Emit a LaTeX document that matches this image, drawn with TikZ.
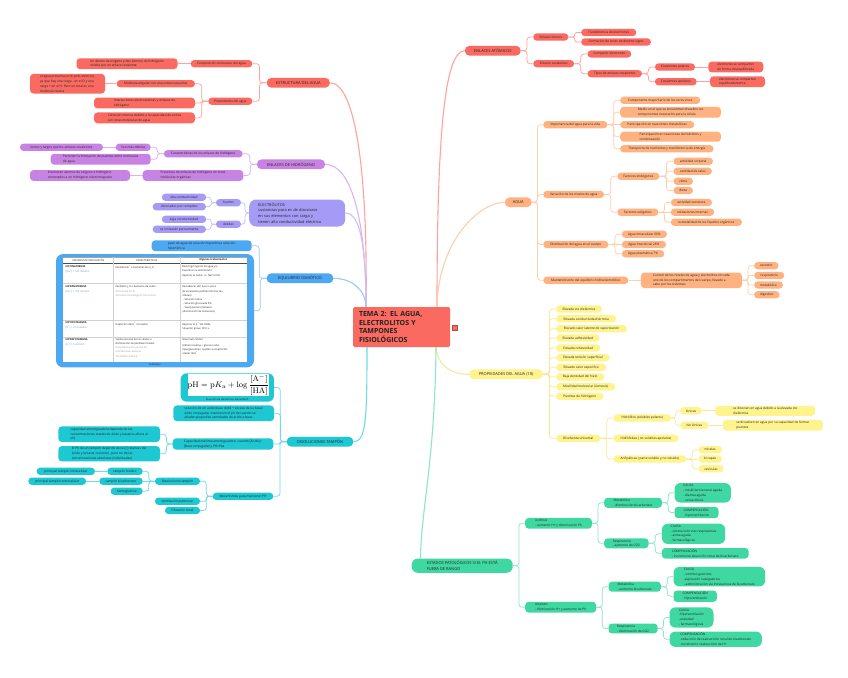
\documentclass[tikz,border=0pt]{standalone}
\usepackage[no-math]{fontspec}
\setmainfont{Open Sans}
\usetikzlibrary{calc,backgrounds}
\definecolor{txt}{HTML}{222222}
\definecolor{cR}{HTML}{FA6A61}
\definecolor{cP}{HTML}{C882E3}
\definecolor{cV}{HTML}{A59BF6}
\definecolor{cB}{HTML}{4DA8F4}
\definecolor{cC}{HTML}{1DC8D2}
\definecolor{cO}{HTML}{FFB27F}
\definecolor{cY}{HTML}{FFF38E}
\definecolor{cG}{HTML}{3FD8A3}
\definecolor{lR}{HTML}{FFA39D}
\definecolor{lP}{HTML}{DDB2EE}
\definecolor{lV}{HTML}{C8C1FA}
\definecolor{lB}{HTML}{96CBF7}
\definecolor{lC}{HTML}{6FDCE3}
\definecolor{lO}{HTML}{FFCEAB}
\definecolor{lY}{HTML}{F5EA98}
\definecolor{lG}{HTML}{8DE6C6}
\definecolor{tblue}{HTML}{6A8DB8}
\definecolor{tgray}{HTML}{9A9A9A}
\newcommand\fs{\fontsize{3.2}{4.8}\selectfont}
\newcommand\fl{\fontsize{4}{5.8}\selectfont}
\newcommand\ft{\fontsize{2.55}{4.1}\selectfont}
\newcommand\fe{\fontsize{3.9}{5.8}\selectfont}
\tikzset{
  nd/.style={rounded corners=3.5pt, inner xsep=3.3pt, inner ysep=1.4pt, minimum height=7.3pt, font=\fs, text=txt, align=center},
  ml/.style={align=left, minimum width=#1},
  lvlone/.style={nd, font=\fl, minimum height=9.8pt, rounded corners=4.5pt, inner xsep=5pt},
  nR/.style={nd, fill=cR}, nP/.style={nd, fill=cP}, nV/.style={nd, fill=cV},
  nB/.style={nd, fill=cB}, nC/.style={nd, fill=cC}, nO/.style={nd, fill=cO},
  nY/.style={nd, fill=cY}, nG/.style={nd, fill=cG, inner xsep=5pt},
  lk/.style={line width=0.75pt},
  lkone/.style={line width=1.1pt},
  cell/.style={anchor=north west, inner sep=0, font=\ft, text=txt, align=left},
  th/.style={inner sep=0, font=\ft, text=txt},
}
\newcommand\edR[4][3]{\draw[lk,draw=#2,rounded corners=#1pt] let \p1=(#3.east), \p2=(#4.west) in (\p1) -- ({(\x1+\x2)/2},\y1) |- (\p2);}
\newcommand\edL[4][3]{\draw[lk,draw=#2,rounded corners=#1pt] let \p1=(#3.west), \p2=(#4.east) in (\p1) -- ({(\x1+\x2)/2},\y1) |- (\p2);}
\newcommand\stR[3]{\draw[lk,draw=#1] (#2.east) -- (#3.west);}
\newcommand\stL[3]{\draw[lk,draw=#1] (#2.west) -- (#3.east);}
\begin{document}
\begin{tikzpicture}[x=1pt,y=-1pt]
\useasboundingbox (0,0) rectangle (848,677);
% ===== root =====
\node[fill=cR, rounded corners=1.5pt, text width=85pt, inner xsep=6pt, inner ysep=3pt, align=left, minimum height=40pt, text=txt, font=\fontsize{7}{8.4}\selectfont\bfseries] (root) at (401.5,327) {TEMA 2: EL AGUA,\\ELECTROLITOS Y\\TAMPONES\\FISIOLÓGICOS};
\node[fill=cR, draw=cR!70!black, line width=0.4pt, minimum size=5pt, inner sep=0] (fold) at (454.2,327.5) {};
\coordinate (rL) at (366,307.5);
\coordinate (rR) at (437,307.5);
\coordinate (rBL) at (367,346.5);
\coordinate (rBR) at (436,346.5);
% ===== ESTRUCTURA =====
\node[lvlone, fill=cR, minimum width=63pt] (estr) at (298.3,82.8) {ESTRUCTURA DEL AGUA};
\node[nR, minimum width=61.6pt] (comp) at (221.5,63.7) {Composición molecular del agua};
\node[nR, ml=101pt] (atomo) at (127,63.7) {Un átomo de oxígeno y dos átomos de hidrógeno\\unidos por un enlace covalente};
\node[nR, minimum width=44pt] (prop) at (230.3,101.2) {Propiedades del agua};
\node[nR, minimum width=78.3pt] (molec) at (155.8,83.7) {Molécula angular con una estructura polar};
\node[nR, ml=75pt] (dipolo) at (67.5,83.7) {el agua presenta un di polo eléctrico,\\ya que hay una carga - en el O y una\\carga + en el H. Pero en total es una\\molécula neutra};
\node[nR, ml=101pt] (inter) at (144.5,103) {Interacciones electrostáticas y enlaces de\\hidrógeno};
\node[nR, ml=101pt] (cohes) at (144.5,117.9) {Cohesión interna debido a la capacidad de unirse\\con otras moléculas de agua};
% ===== ENLACES DE HIDROGENO =====
\node[lvlone, fill=cP, minimum width=68pt] (enh) at (291,164.3) {ENLACES DE HIDRÓGENO};
\node[nP, minimum width=78.7pt] (carac) at (203.3,153.8) {Características de los enlaces de hidrógeno};
\node[nP, minimum width=35pt] (debil) at (133.2,147.3) {Son más débiles};
\node[nP, minimum width=83pt] (largos) at (61.5,147.3) {lemos y largos que los enlaces covalentes};
\node[nP, ml=100pt] (puentes) at (100.7,159.2) {Permiten la formación de puentes entre moléculas\\de agua};
\node[nP, ml=100.6pt] (presen) at (193,175.5) {Presencia de enlaces de hidrógeno en otras\\moléculas orgánicas};
\node[nP, ml=100pt] (involu) at (80,175.5) {Involucran átomos de oxígeno e hidrógeno\\conectados a un hidrógeno electronegativo};
% ===== ELECTROLITOS =====
\node[fill=cV, rounded corners=7pt, text=txt, font=\fe, align=left, text width=78pt, inner xsep=9pt, inner ysep=2pt, minimum height=27pt] (elec) at (297.2,213) {ELECTRÓLITOS\\sustancias para es de disociarse\\en sus elementos con carga y\\tienen alta conductividad eléctrica};
\node[nV, minimum width=25pt] (fuer) at (228.5,202.7) {fuertes};
\node[nV, minimum width=25pt] (deb) at (228.5,224.2) {débiles};
\node[nV, minimum width=44.3pt] (altac) at (184,197.3) {alta conductividad};
\node[nV, minimum width=53.3pt] (disoc) at (179.3,206.7) {disociados por completo};
\node[nV, minimum width=44.3pt] (bajac) at (184,219.3) {baja conductividad};
\node[nV, minimum width=53.3pt] (ioniz) at (179.3,229.3) {se ionizarán parcialmente};
% ===== EQUILIBRIO OSMOTICO =====
\node[lvlone, fill=cB, minimum width=66.6pt] (equi) at (300,278.3) {EQUILIBRIO OSMÓTICO};
\node[nB, ml=100pt] (paso) at (201.7,245.8) {paso de agua de solución hipotónica solución\\hipertónica};
\node[fill=cB, rounded corners=7pt, minimum width=198pt, minimum height=113.3pt, inner sep=0] (tabla) at (155,310.7) {};
\fill[white] (63.3,256.7) rectangle (246.7,361.7);
\draw[black!35, line width=0.3pt] (63.3,256.7) -- (246.7,256.7);
\draw[black!70, line width=0.4pt] (63.3,263.3) -- (246.7,263.3);
\foreach \yy in {283.3,320,336.7} \draw[black!18, line width=0.3pt] (63.3,\yy) -- (246.7,\yy);
\foreach \xx in {113.3,180} \draw[black!18, line width=0.3pt] (\xx,256.7) -- (\xx,361.7);
\node[th] (h1) at (88.3,260) {VALORES EN CIRCULACIÓN};
\node[th] (h2) at (146.7,260) {CARACTERÍSTICAS};
\node[th, font=\ft\bfseries] (h3) at (213.3,260) {Algunos tratamientos};
\node[cell] (a1) at (65.5,265.2) {\textbf{HIPONATREMIA}\\[0.8pt]{\color{tblue}{[}Na\textsuperscript{+}] < 135 mmol/L}};
\node[cell] (a2) at (115.5,265.2) {Pérdida Na\textsuperscript{+} o Aumento de H\textsubscript{2}O};
\node[cell] (a3) at (182.2,265.2) {Restringir ingesta de agua y/o\\Favorecer su eliminación\\[1.2pt]Reponer el sodio: i.v. NaCl 0,9\%};
\node[cell] (b1) at (65.5,285.2) {\textbf{HIPERNATREMIA}\\[0.8pt]{\color{tblue}{[}Na\textsuperscript{+}] > 150 mmol/L}};
\node[cell] (b2) at (115.5,285.8) {Pérdida H\textsubscript{2}O o Aumento de sodio.\\{\color{tgray}Disminuye el LIC}\\{\color{tgray}Síntomas neurológicos frecuentes}};
\node[cell] (b3) at (182.2,285.8) {Restablecer LEC poco a poco\\(bruscamente podrían hinchar las\\células):\\\ - Solución salina\\\ - Solución glucosada 5\%\\\ - Vasopresina intranasal\\(disminución de la diuresis)};
\node[cell] (c1) at (65.5,321.8) {\textbf{HIPOPOTASEMIA}\\[0.8pt]{\color{tblue}{[}K\textsuperscript{+}] < 3,5 mmol/L}};
\node[cell] (c2) at (115.5,321.8) {Depleción del K\textsuperscript{+} circulante};
\node[cell] (c3) at (182.2,321.8) {Reponer el K\textsuperscript{+} VIA ORAL\\[0.8pt]Situación grave: KCl i.v.};
\node[cell] (d1) at (65.5,338.5) {\textbf{HIPERPOTASEMIA}\\[0.8pt]{\color{tblue}{[}K\textsuperscript{+}] > 5 mmol/L}};
\node[cell] (d2) at (115.5,338.5) {Salida excesiva de las células o\\disminución de pérdidas renales.\\{\color{tgray}Despolarización parcial de}\\{\color{tgray}membranas celulares}\\{\color{tgray}Toxicidad cardiaca}};
\node[cell] (d3) at (182.2,338.5) {Gluconato Sódico\\[1.5pt]Admon insulina + glucosa salvo\\hiperglucemias: ayudan a recaptación\\celular de K\textsuperscript{+}};
\node[th] (sub) at (155,364.4) {Subtópico};
% ===== DISOLUCIONES TAMPON =====
\node[lvlone, fill=cC, minimum width=66.6pt] (diso) at (320,441.7) {DISOLUCIONES TAMPÓN};
\node[fill=cC, rounded corners=6pt, minimum width=93.3pt, minimum height=28.4pt, inner sep=0] (ecua) at (227.3,387.5) {};
\node[fill=white, minimum width=80pt, minimum height=22pt, inner sep=0, font=\fontsize{8.5}{10}\selectfont] (form) at (228.3,385) {$\displaystyle \mathrm{pH} = \mathrm{p}K_{\mathrm{a}} + \log\frac{[\mathrm{A}^{-}]}{[\mathrm{HA}]}$};
\node[th] (ecuT) at (227.3,399.2) {Ecuación de Henderson-Hasselbach};
\node[nC, ml=100.7pt] (soluc) at (223.7,413.3) {solución de un ácido/base débil + exceso de su base/\\ácido conjugada: mantienen el ph de cuando se\\añaden pequeñas cantidades de ácido o base};
\node[nC, ml=100.6pt] (capmax) at (223,444) {Capacidad máxima amortiguadora: cuando {[}Ácido]=\\{[}Base conjugada] y PH=Pka};
\node[nC, ml=101.7pt] (capam) at (109.2,434.2) {capacidad amortiguadora depende de las\\concentraciones totales de ácido y base(no afecta al\\ph)};
\node[nC, ml=101.7pt] (elph) at (109.2,453.8) {El Ph de un tampón depende de las {[}] relativas del\\ácido y la base( cociente) , pero no de las\\concentraciones absolutas (individuales)};
\node[nC, minimum width=60.6pt] (mecan) at (243,496.3) {Mecanismos para mantener PH};
\node[nC, minimum width=45pt] (distam) at (177.5,481.2) {Disoluciones tampón};
\node[nC, minimum width=45pt] (venti) at (177.5,501.2) {Ventilación pulmonar};
\node[nC, minimum width=35pt] (filtr) at (182.5,510.5) {Filtración renal};
\node[nC, minimum width=35.4pt] (fosf) at (125,471.3) {tampón fosfato};
\node[nC, minimum width=43.4pt] (bicar) at (121,481.2) {tampón bicarbonato};
\node[nC, minimum width=32pt] (hemo) at (126.7,491.2) {hemoglobina};
\node[nC, minimum width=58.3pt] (intra) at (65.8,471.3) {principal tampón intracelular};
\node[nC, minimum width=57.7pt] (extra) at (57.2,481.2) {principal tampón extracelular};
% ===== ENLACES ATOMICOS =====
\node[lvlone, fill=cR, minimum width=55.7pt] (enat) at (492.8,50.7) {ENLACES ATÓMICOS};
\node[nR, minimum width=35pt] (ionic) at (550.8,37) {Enlaces iónicos};
\node[nR, minimum width=40.7pt] (coval) at (553.7,63.7) {Enlaces covalentes};
\node[nR, minimum width=55pt, anchor=west] (transf) at (581,32.5) {Transferencia de electrones};
\node[nR, minimum width=69.7pt, anchor=west] (forma) at (581,42) {Formación de iones de distinto signo};
\node[nR, minimum width=43.7pt, anchor=west] (compa) at (587.3,54) {Compartir electrones};
\node[nR, minimum width=54.4pt, anchor=west] (tipos) at (587.3,73.7) {Tipos de enlaces covalentes};
\node[nR, minimum width=40pt] (polar) at (675,67) {Covalentes polares};
\node[nR, minimum width=41.7pt] (apolar) at (675.8,81.7) {Covalentes apolares};
\node[nR, ml=55pt] (deseq) at (735.8,67) {electrones se comparten\\de forma desequilibrada};
\node[nR, ml=55pt] (equil) at (737.5,81.7) {electrones se comparten\\equilibradamente};
% ===== AGUA =====
\node[lvlone, fill=cO, minimum width=26.7pt] (agua) at (518.3,202.3) {AGUA};
\node[nO, minimum width=64pt] (impor) at (575.3,124.7) {Importancia del agua para la vida};
\node[nO, minimum width=80pt, anchor=west] (compo) at (620,100.3) {Componente mayoritario de los seres vivos};
\node[nO, ml=100.7pt, anchor=west] (medio) at (620,112.2) {Medio en el que se encuentran disueltos los\\componentes necesarios para la célula};
\node[nO, minimum width=74pt, anchor=west] (partm) at (620,124.7) {Participación en reacciones metabólicas};
\node[nO, ml=100.7pt, anchor=west] (parth) at (620,136.7) {Participación en reacciones de hidrólisis y\\condensación};
\node[nO, minimum width=93.3pt, anchor=west] (trans) at (620,148.8) {Transporte de nutrientes y transferencia de energía};
\node[nO, minimum width=60.7pt] (varia) at (573.7,194.5) {Variación de los niveles de agua};
\node[nO, minimum width=42pt] (endog) at (638.3,176.3) {Factores endógenos};
\node[nO, minimum width=39.4pt, anchor=west] (actc) at (673.3,161.3) {actividad corporal};
\node[nO, minimum width=38.4pt, anchor=west] (sales) at (673.3,171.3) {cantidad de sales};
\node[nO, minimum width=19.4pt, anchor=west] (clima) at (673.3,181.2) {clima};
\node[nO, minimum width=19.4pt, anchor=west] (dieta) at (673.3,190.5) {dieta};
\node[nO, minimum width=41pt] (exog) at (637.8,212.2) {Factores exógenos};
\node[nO, minimum width=41pt, anchor=west] (acts) at (670.7,202.5) {actividad secretora};
\node[nO, minimum width=43.3pt, anchor=west] (oxid) at (670.7,212.2) {oxidaciones internas};
\node[nO, minimum width=71pt, anchor=west] (osmo) at (670.7,222.2) {osmolalidad de los líquidos orgánicos};
\node[nO, minimum width=65pt] (distr) at (575.8,244.5) {Distribución del agua en el cuerpo};
\node[nO, minimum width=45pt, anchor=west] (aintra) at (621.7,234.2) {Agua intracelular 66\%};
\node[nO, minimum width=44pt, anchor=west] (ainter) at (621.7,244.5) {Agua intersticial 26\%};
\node[nO, minimum width=42.3pt, anchor=west] (aplas) at (621.7,253.8) {Agua plasmática 7\%};
\node[nO, minimum width=85pt] (mante) at (585.8,280.3) {Mantenimiento del equilibrio hidroelectrolítico};
\node[nO, ml=101pt, anchor=west] (contr) at (640.7,280.3) {Control de los niveles de agua y electrolitos en cada\\uno de los compartimentos del cuerpo, llevado a\\cabo por los sistemas:};
\node[nO, minimum width=24.3pt, anchor=west] (excr) at (754,265.7) {excretor};
\node[nO, minimum width=30pt, anchor=west] (resp) at (754,275.5) {respiratorio};
\node[nO, minimum width=28.7pt, anchor=west] (meta) at (754,285) {metabólico};
\node[nO, minimum width=25.3pt, anchor=west] (dige) at (754,294.8) {digestivo};
% ===== PROPIEDADES =====
\node[lvlone, fill=cY, minimum width=73.3pt] (props) at (506,374.3) {PROPIEDADES DEL AGUA (10)};
\node[nY, minimum width=45.7pt, anchor=west] (p1) at (556,309) {Elevada cte dieléctrica};
\node[nY, minimum width=60pt, anchor=west] (p2) at (556,318.8) {Elevada conductividad térmica};
\node[nY, minimum width=70.7pt, anchor=west] (p3) at (556,328.7) {Elevado calor latente de vaporización};
\node[nY, minimum width=43.3pt, anchor=west] (p4) at (556,338) {Elevada adhesividad};
\node[nY, minimum width=44pt, anchor=west] (p5) at (556,348) {Elevada cohesividad};
\node[nY, minimum width=53.3pt, anchor=west] (p6) at (556,357.7) {Elevada tensión superficial};
\node[nY, minimum width=50pt, anchor=west] (p7) at (556,367.3) {Elevado calor específico};
\node[nY, minimum width=48pt, anchor=west] (p8) at (556,377) {Baja densidad del hielo};
\node[nY, minimum width=59pt, anchor=west] (p9) at (556,386.8) {Movilidad molecular (ósmosis)};
\node[nY, minimum width=47.3pt, anchor=west] (p10) at (556,396.3) {Puentes de hidrógeno};
\node[nY, minimum width=44pt, anchor=west] (disolv) at (556,438.3) {Disolvente universal};
\node[nY, minimum width=57.4pt, anchor=west] (hfil) at (613.3,418) {Hidrófilos (solubles polares)};
\node[nY, minimum width=65pt, anchor=west] (hfob) at (613.3,438.3) {Hidrófobas ( no solubles apolares)};
\node[nY, minimum width=72.7pt, anchor=west] (anfi) at (613.3,459) {Anfipáticas ( parte soluble y no soluble)};
\node[nY, minimum width=21.7pt, anchor=west] (ionicas) at (680,410.8) {Iónicas};
\node[nY, minimum width=28.3pt, anchor=west] (noion) at (680,425.3) {No iónicas};
\node[nY, ml=100pt, anchor=west] (sediso) at (715,410.8) {se disocian en agua debido a la elevada cte\\dieléctrica};
\node[nY, ml=100pt, anchor=west] (sedisu) at (722.7,425.3) {se disuelven en agua por su capacidad de formar\\puentes};
\node[nY, minimum width=23.3pt, anchor=west] (mice) at (698.3,449.7) {micelas};
\node[nY, minimum width=23.3pt, anchor=west] (bica) at (698.3,459) {bi capas};
\node[nY, minimum width=25pt, anchor=west] (vesi) at (698.3,468.8) {vesículas};
% ===== ESTADOS PATOLOGICOS =====
\node[lvlone, fill=cG, align=left, minimum width=101pt, inner ysep=2.3pt, rounded corners=6pt] (estad) at (462.2,565.7) {ESTADOS PATOLÓGICOS SI EL PH ESTÁ\\FUERA DE RANGO};
\node[nG, ml=66.7pt, anchor=west] (acid) at (525,523.3) {Acidosis\\- aumento H+ y disminución Ph};
\node[nG, ml=71pt, anchor=west] (alca) at (525,607.2) {Alcalosis\\- disminución H+ y aumento de Ph};
\node[nG, ml=57.7pt, anchor=west] (metA) at (604,502.8) {Metabólica\\- disminución bicarbonato};
\node[nG, ml=44.3pt, anchor=west] (resA) at (604,543.3) {Respiratoria\\- aumento de CO2};
\node[nG, ml=56.4pt, anchor=west, rounded corners=6pt] (cauA1) at (674.3,492.8) {CAUSA\\- insuficiencia renal aguda\\- diarrea aguda\\- cetoacidosis};
\node[nG, ml=44pt, anchor=west] (comA1) at (674.3,512.5) {COMPENSACIÓN\\- hiperventilación};
\node[nG, ml=63.3pt, anchor=west, rounded corners=6pt] (cauA2) at (661.7,533.8) {CAUSA\\- obstrucción vías respiratorias\\- asma aguda\\- farmacológicas};
\node[nG, ml=86.7pt, anchor=west] (comA2) at (661.7,553.3) {COMPENSACIÓN\\- incremento absorción renal de bicarbonato};
\node[nG, ml=52.4pt, anchor=west] (metB) at (608.3,586.7) {Metabólica\\- aumento bicarbonato};
\node[nG, ml=49pt, anchor=west] (resB) at (608.3,628.5) {Respiratoria\\- disminución de CO2};
\node[nG, ml=91.7pt, anchor=west, rounded corners=6pt] (cauB1) at (673.3,576.7) {CAUSA\\- vomitos gastricos\\-aspiración nasogastrica\\- administración vía intravenosa de bicarbonato};
\node[nG, ml=43.4pt, anchor=west] (comB1) at (673.3,596.2) {COMPENSACIÓN\\- hipoventilación};
\node[nG, ml=44pt, anchor=west, rounded corners=6pt] (cauB2) at (669.3,617.5) {CAUSA\\-hiperventilación\\-ansiedad\\- farmacológicas};
\node[nG, ml=92.4pt, anchor=west, rounded corners=6pt] (comB2) at (669.3,639.2) {COMPENSACIÓN\\-reducción de reabsorción renal de bicarbonato\\-incremento reabsorción de H+};
% ===== connectors =====
\begin{pgfonlayer}{background}
\fill[white] (0,0) rectangle (848,677);
% level one
\draw[lkone,draw=lR] (rL) .. controls (368,170) and (355,82.8) .. (estr.east);
\draw[lkone,draw=lP] (rL) .. controls (366,215) and (350,164.3) .. (enh.east);
\draw[lkone,draw=lV] (rL) .. controls (366,245) and (360,213) .. (elec.east);
\draw[lkone,draw=lB] (rL) .. controls (366,290) and (352,278.3) .. (equi.east);
\draw[lkone,draw=lC] (rBL) .. controls (367,420) and (366,441.7) .. (diso.east);
\draw[lkone,draw=lR] (rR) .. controls (437,130) and (445,50.7) .. (enat.west);
\draw[lkone,draw=lO] (rR) .. controls (438,240) and (480,202.3) .. (agua.west);
\draw[lkone,draw=lY] (rBR) .. controls (437,365) and (450,374.3) .. (props.west);
\draw[lkone,draw=lG] (rBR) .. controls (435,460) and (421,510) .. ([xshift=9pt]estad.north west);
% estructura
\edL{lR}{estr}{comp} \edL{lR}{estr}{prop} \stL{lR}{comp}{atomo}
\edL{lR}{prop}{molec} \edL[0.9]{lR}{prop}{inter} \edL{lR}{prop}{cohes} \stL{lR}{molec}{dipolo}
% enlaces H
\edL{lP}{enh}{carac} \edL{lP}{enh}{presen} \edL[3]{lP}{carac}{debil} \edL[2.2]{lP}{carac}{puentes}
\stL{lP}{debil}{largos} \stL{lP}{presen}{involu}
% electrolitos
\edL{lV}{elec}{fuer} \edL{lV}{elec}{deb} \edL[2.4]{lV}{fuer}{altac} \edL[1.8]{lV}{fuer}{disoc}
\edL[2.1]{lV}{deb}{bajac} \edL[2.3]{lV}{deb}{ioniz}
% equilibrio
\edL{lB}{equi}{paso} \edL{lB}{equi}{tabla}
% disoluciones
\edL{lC}{diso}{ecua} \edL{lC}{diso}{soluc} \edL[1]{lC}{diso}{capmax} \edL{lC}{diso}{mecan}
\edL{lC}{capmax}{capam} \edL{lC}{capmax}{elph}
\edL{lC}{mecan}{distam} \edL[2]{lC}{mecan}{venti} \edL{lC}{mecan}{filtr}
\edL{lC}{distam}{fosf} \stL{lC}{distam}{bicar} \edL{lC}{distam}{hemo}
\stL{lC}{fosf}{intra} \stL{lC}{bicar}{extra}
% enlaces atomicos
\edR{lR}{enat}{ionic} \edR{lR}{enat}{coval} \edR[2]{lR}{ionic}{transf} \edR[2.2]{lR}{ionic}{forma}
\edR{lR}{coval}{compa} \edR{lR}{coval}{tipos} \edR{lR}{tipos}{polar} \edR{lR}{tipos}{apolar}
\stR{lR}{polar}{deseq} \stR{lR}{apolar}{equil}
% agua
\edR{lO}{agua}{impor} \edR{lO}{agua}{varia} \edR{lO}{agua}{distr} \edR{lO}{agua}{mante}
\edR{lO}{impor}{compo} \edR{lO}{impor}{medio} \stR{lO}{impor}{partm} \edR{lO}{impor}{parth} \edR{lO}{impor}{trans}
\edR{lO}{varia}{endog} \edR{lO}{varia}{exog}
\edR{lO}{endog}{actc} \edR[2.2]{lO}{endog}{sales} \edR[2.2]{lO}{endog}{clima} \edR{lO}{endog}{dieta}
\edR{lO}{exog}{acts} \stR{lO}{exog}{oxid} \edR{lO}{exog}{osmo}
\edR{lO}{distr}{aintra} \stR{lO}{distr}{ainter} \edR{lO}{distr}{aplas}
\stR{lO}{mante}{contr}
\edR{lO}{contr}{excr} \edR[2]{lO}{contr}{resp} \edR[2]{lO}{contr}{meta} \edR{lO}{contr}{dige}
% propiedades
\edR{lY}{props}{p1} \edR{lY}{props}{p2} \edR{lY}{props}{p3} \edR{lY}{props}{p4} \edR{lY}{props}{p5}
\edR{lY}{props}{p6} \edR{lY}{props}{p7} \edR[1.2]{lY}{props}{p8} \edR{lY}{props}{p9} \edR{lY}{props}{p10}
\edR{lY}{props}{disolv}
\edR{lY}{disolv}{hfil} \stR{lY}{disolv}{hfob} \edR{lY}{disolv}{anfi}
\edR{lY}{hfil}{ionicas} \edR{lY}{hfil}{noion} \stR{lY}{ionicas}{sediso} \stR{lY}{noion}{sedisu}
\edR{lY}{anfi}{mice} \stR{lY}{anfi}{bica} \edR{lY}{anfi}{vesi}
% estados
\edR{lG}{estad}{acid} \edR{lG}{estad}{alca}
\edR{lG}{acid}{metA} \edR{lG}{acid}{resA}
\edR{lG}{metA}{cauA1} \edR{lG}{metA}{comA1} \edR{lG}{resA}{cauA2} \edR{lG}{resA}{comA2}
\edR{lG}{alca}{metB} \edR{lG}{alca}{resB}
\edR{lG}{metB}{cauB1} \edR{lG}{metB}{comB1} \edR{lG}{resB}{cauB2} \edR{lG}{resB}{comB2}
\end{pgfonlayer}
\end{tikzpicture}
\end{document}
